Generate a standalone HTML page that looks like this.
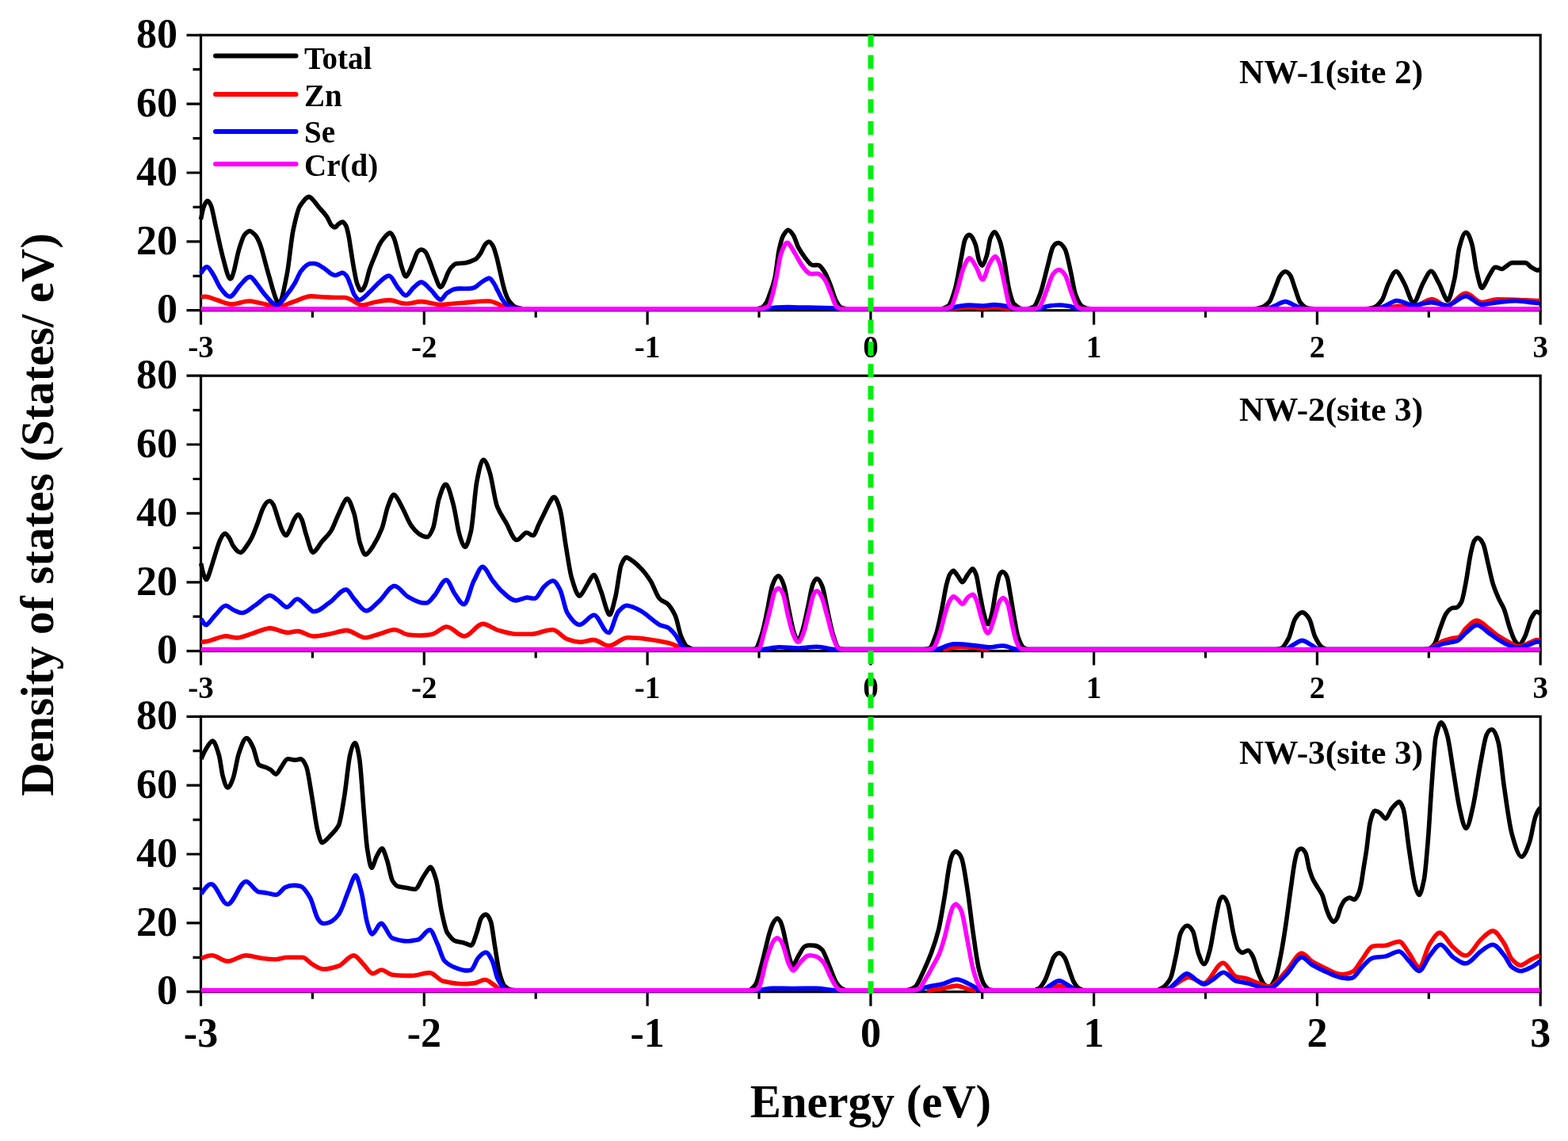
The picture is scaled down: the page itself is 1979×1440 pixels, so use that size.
<!DOCTYPE html>
<html><head><meta charset="utf-8"><title>Density of states</title>
<style>html,body{margin:0;padding:0;background:#fff;}svg{display:block;}text{font-family:"Liberation Serif","Times New Roman",serif;font-weight:bold;fill:#000;}</style></head>
<body>
<svg width="1979" height="1440" viewBox="0 0 1979 1440">
<rect width="1979" height="1440" fill="#fff"/>
<rect x="253.5" y="44.3" width="1690.7" height="347.4" fill="none" stroke="#000" stroke-width="3.2"/>
<path d="M235.5,391.7H253.5M243.5,348.3H253.5M235.5,304.9H253.5M243.5,261.4H253.5M235.5,218.0H253.5M243.5,174.6H253.5M235.5,131.1H253.5M243.5,87.7H253.5M235.5,44.3H253.5M253.5,391.7V409.7M394.4,391.7V400.7M535.3,391.7V409.7M676.2,391.7V400.7M817.1,391.7V409.7M958.0,391.7V400.7M1098.9,391.7V409.7M1239.7,391.7V400.7M1380.6,391.7V409.7M1521.5,391.7V400.7M1662.4,391.7V409.7M1803.3,391.7V400.7M1944.2,391.7V409.7" stroke="#000" stroke-width="3.2" fill="none"/>
<text x="224" y="407.4" font-size="52" text-anchor="end">0</text>
<text x="224" y="320.6" font-size="52" text-anchor="end">20</text>
<text x="224" y="233.7" font-size="52" text-anchor="end">40</text>
<text x="224" y="146.8" font-size="52" text-anchor="end">60</text>
<text x="224" y="60.0" font-size="52" text-anchor="end">80</text>
<text x="253.5" y="450.7" font-size="39" text-anchor="middle">-3</text>
<text x="535.3" y="450.7" font-size="39" text-anchor="middle">-2</text>
<text x="817.1" y="450.7" font-size="39" text-anchor="middle">-1</text>
<text x="1098.9" y="450.7" font-size="39" text-anchor="middle">0</text>
<text x="1380.6" y="450.7" font-size="39" text-anchor="middle">1</text>
<text x="1662.4" y="450.7" font-size="39" text-anchor="middle">2</text>
<text x="1944.2" y="450.7" font-size="39" text-anchor="middle">3</text>
<g fill="none" stroke-width="5.6" stroke-linejoin="round" stroke-linecap="butt">
<path stroke="#000" d="M253.5,277.0C254.8,270.1 256.2,263.0 257.5,260.0C258.9,256.8 260.3,253.7 261.7,253.5C263.3,253.3 264.9,255.9 266.5,260.0C268.4,264.9 270.3,276.7 272.2,285.0C275.2,298.0 278.1,313.0 281.1,323.9C284.6,336.9 288.2,354.6 291.7,351.5C295.2,348.4 298.7,323.2 302.2,312.8C304.3,306.6 306.4,299.0 308.5,296.5C310.9,293.7 313.2,291.3 315.6,291.7C317.7,292.1 319.9,294.3 322.0,296.5C323.9,298.5 325.9,302.4 327.8,307.2C331.5,316.4 335.2,333.9 338.9,346.1C343.0,359.5 347.0,377.9 351.1,382.5C354.8,386.7 358.5,364.2 362.2,346.1C364.8,333.4 367.4,303.0 370.0,290.6C373.0,276.4 375.9,263.2 378.9,259.4C383.3,253.7 387.8,245.8 392.2,249.4C395.9,252.4 399.6,258.1 403.3,262.5C406.4,266.1 409.4,269.0 412.5,273.3C414.4,276.0 416.4,282.1 418.3,284.2C420.0,286.0 421.6,287.5 423.3,286.7C424.7,286.0 426.1,283.6 427.5,282.5C429.2,281.2 430.8,280.3 432.5,280.0C433.9,279.8 435.3,282.6 436.7,285.0C437.8,286.9 438.9,292.1 440.0,297.5C441.1,302.9 442.2,311.5 443.3,318.3C444.4,325.4 445.6,333.1 446.7,339.2C448.1,346.6 449.4,354.8 450.8,358.3C452.5,362.6 454.1,366.6 455.8,366.5C457.5,366.4 459.1,363.8 460.8,360.0C462.8,355.5 464.7,344.9 466.7,339.2C468.9,332.8 471.1,327.9 473.3,322.5C475.3,317.7 477.2,311.9 479.2,308.3C481.1,304.8 483.1,302.2 485.0,300.0C487.2,297.5 489.5,294.7 491.7,293.9C493.5,293.3 495.2,296.5 497.0,300.0C498.7,303.4 500.5,311.9 502.2,318.3C503.8,324.2 505.4,332.0 507.0,337.0C508.7,342.4 510.5,349.0 512.2,349.0C513.8,349.0 515.4,345.3 517.0,342.0C518.7,338.4 520.5,333.6 522.2,329.4C523.8,325.6 525.4,319.9 527.0,318.0C528.7,316.0 530.5,314.9 532.2,315.0C533.8,315.1 535.4,316.3 537.0,318.0C538.7,319.9 540.5,325.1 542.2,329.4C544.5,335.0 546.7,342.5 549.0,348.0C551.4,353.8 553.7,362.1 556.1,362.5C557.7,362.8 559.4,358.3 561.0,355.0C562.5,351.9 564.1,346.8 565.6,343.9C567.1,341.1 568.5,338.4 570.0,337.0C571.9,335.2 573.7,333.2 575.6,332.8C579.7,331.9 583.7,332.5 587.8,331.7C591.9,330.9 595.9,329.3 600.0,327.2C602.2,326.1 604.5,322.7 606.7,319.4C608.5,316.8 610.2,311.3 612.0,309.0C613.7,306.7 615.5,305.1 617.2,305.0C618.8,304.9 620.4,307.5 622.0,310.0C623.6,312.5 625.1,318.3 626.7,323.9C628.0,328.4 629.2,334.5 630.5,340.0C631.8,345.6 633.1,352.0 634.4,357.2C635.6,362.0 636.8,366.7 638.0,370.0C639.4,373.8 640.8,377.7 642.2,379.4C645.2,383.1 648.1,386.9 651.1,387.8C654.1,388.7 657.0,389.8 660.0,389.8C673.3,389.8 686.7,389.7 700.0,389.7L955.0,389.7C957.0,389.7 959.0,389.1 961.0,388.5C963.0,387.9 965.1,385.0 967.1,382.0C968.7,379.6 970.4,374.3 972.0,370.0C974.0,364.8 975.9,359.5 977.9,351.2C979.7,343.6 981.5,323.2 983.3,315.1C985.1,307.0 986.9,300.0 988.7,297.1C990.7,293.9 992.6,290.1 994.6,290.3C996.9,290.5 999.1,293.4 1001.4,297.1C1003.5,300.5 1005.6,308.5 1007.7,312.4C1010.7,317.9 1013.7,322.2 1016.7,326.0C1019.1,329.0 1021.5,332.5 1023.9,334.0C1027.2,336.1 1030.6,333.3 1033.9,335.0C1036.3,336.3 1038.7,340.1 1041.1,344.0C1043.5,347.9 1045.9,354.2 1048.3,360.3C1050.4,365.6 1052.5,374.2 1054.6,378.3C1057.0,383.0 1059.4,387.6 1061.8,388.2C1064.5,388.9 1067.3,389.7 1070.0,389.7L1188.0,389.7C1190.9,389.7 1193.8,387.8 1196.7,386.1C1199.7,384.3 1202.6,374.4 1205.6,363.9C1208.2,354.8 1210.7,337.8 1213.3,325.0C1214.8,317.5 1216.3,306.4 1217.8,302.8C1220.0,297.5 1222.2,295.6 1224.4,296.7C1226.6,297.9 1228.9,302.4 1231.1,308.3C1232.6,312.3 1234.1,324.1 1235.6,328.3C1237.1,332.4 1238.5,335.6 1240.0,335.0C1241.9,334.2 1243.7,327.9 1245.6,321.7C1247.1,316.8 1248.5,304.5 1250.0,300.6C1251.9,295.7 1253.7,292.2 1255.6,292.8C1257.8,293.5 1260.0,298.9 1262.2,305.0C1264.1,310.2 1265.9,320.9 1267.8,330.6C1269.6,340.2 1271.5,356.3 1273.3,363.9C1275.5,373.2 1277.8,381.9 1280.0,383.9C1283.0,386.5 1285.9,389.2 1288.9,389.5C1291.3,389.7 1293.6,389.8 1296.0,389.7C1298.8,389.6 1301.6,388.5 1304.4,387.2C1307.4,385.9 1310.3,377.6 1313.3,369.4C1316.3,361.2 1319.2,347.1 1322.2,336.1C1324.4,327.8 1326.7,315.4 1328.9,311.7C1331.5,307.4 1334.1,306.2 1336.7,306.7C1339.3,307.2 1341.8,310.1 1344.4,315.0C1346.6,319.2 1348.9,332.1 1351.1,341.7C1353.3,351.3 1355.6,367.1 1357.8,372.8C1360.8,380.4 1363.7,386.1 1366.7,387.2C1369.3,388.2 1371.8,389.4 1374.4,389.5C1376.3,389.6 1378.1,389.7 1380.0,389.7L1583.0,389.7C1585.7,389.7 1588.4,388.9 1591.1,388.3C1594.8,387.5 1598.5,385.0 1602.2,380.6C1604.8,377.5 1607.4,368.0 1610.0,361.7C1611.9,357.2 1613.7,351.0 1615.6,348.3C1617.8,345.1 1620.0,343.0 1622.2,342.8C1624.4,342.6 1626.7,344.8 1628.9,348.3C1630.7,351.1 1632.6,358.9 1634.4,363.9C1636.6,370.0 1638.9,378.9 1641.1,381.7C1644.4,385.8 1647.8,388.6 1651.1,389.0C1653.4,389.3 1655.7,389.7 1658.0,389.7L1724.0,389.7C1727.1,389.7 1730.2,388.9 1733.3,388.3C1737.0,387.6 1740.7,383.4 1744.4,378.3C1747.0,374.7 1749.6,363.6 1752.2,358.3C1755.6,351.3 1759.1,341.7 1762.5,342.5C1765.8,343.3 1769.2,352.1 1772.5,358.0C1776.3,364.8 1780.2,381.6 1784.0,381.6C1788.2,381.6 1792.3,363.7 1796.5,356.6C1799.7,351.1 1802.9,342.4 1806.1,342.2C1809.3,342.0 1812.5,351.1 1815.7,356.6C1819.2,362.6 1822.7,375.1 1826.2,378.7C1829.4,382.0 1832.6,365.3 1835.8,351.8C1837.7,343.6 1839.7,320.8 1841.6,313.4C1844.5,302.4 1847.3,293.3 1850.2,293.2C1852.8,293.1 1855.3,299.7 1857.9,308.6C1859.8,315.3 1861.8,334.3 1863.7,342.2C1866.1,352.0 1868.5,365.2 1870.9,363.3C1873.9,360.9 1877.0,351.7 1880.0,347.0C1882.2,343.6 1884.5,338.2 1886.7,337.4C1889.9,336.2 1893.1,340.5 1896.3,339.3C1900.5,337.7 1904.6,331.6 1908.8,331.6L1925.1,331.6C1927.7,331.6 1930.2,335.8 1932.8,337.4C1935.4,339.0 1937.9,340.7 1940.5,341.2C1941.7,341.4 1942.8,340.4 1944.0,339.5"/>
<path stroke="#ff0000" d="M253.5,375.0C256.0,374.5 258.6,373.9 261.1,374.4C265.7,375.3 270.4,377.5 275.0,379.0C280.4,380.7 285.7,383.4 291.1,383.9C299.3,384.6 307.4,379.2 315.6,380.0C322.1,380.7 328.5,382.6 335.0,384.0C340.0,385.0 345.0,387.2 350.0,387.2C356.7,387.2 363.3,383.1 370.0,381.0C377.4,378.7 384.8,374.0 392.2,373.9C398.1,373.8 404.1,374.8 410.0,375.0C415.0,375.2 420.0,375.5 425.0,375.5L435.0,375.5C437.8,375.5 440.5,377.2 443.3,378.3C447.8,380.1 452.2,385.0 456.7,385.0C462.8,385.0 468.9,381.9 475.0,381.0C480.6,380.1 486.1,378.8 491.7,378.9C498.5,379.0 505.4,383.2 512.2,383.3C518.9,383.4 525.5,380.4 532.2,380.6C540.2,380.9 548.1,384.6 556.1,384.4C565.5,384.1 575.0,382.9 584.4,382.2C595.3,381.4 606.3,379.9 617.2,380.0C622.9,380.0 628.7,384.4 634.4,386.1C638.1,387.2 641.9,388.7 645.6,389.0C650.4,389.4 655.2,389.7 660.0,389.7M1195.0,389.7C1204.7,389.7 1214.3,388.1 1224.0,388.0C1229.3,387.9 1234.7,389.0 1240.0,389.0C1245.0,389.0 1250.0,387.9 1255.0,388.0C1261.7,388.1 1268.3,389.7 1275.0,389.7M1745.0,389.7C1750.7,389.7 1756.3,387.2 1762.0,386.5C1769.3,385.6 1776.7,387.7 1784.0,387.0C1791.4,386.3 1798.7,378.6 1806.1,377.7C1812.7,376.8 1819.4,386.1 1826.0,386.0C1834.1,385.9 1842.1,369.8 1850.2,370.0C1856.9,370.2 1863.7,381.9 1870.4,381.6C1876.8,381.3 1883.2,377.7 1889.6,377.7C1897.6,377.8 1905.6,377.9 1913.6,378.2C1923.2,378.6 1932.8,379.6 1942.4,379.6L1944.0,379.6"/>
<path stroke="#0000ff" d="M253.5,345.0C256.4,340.6 259.3,335.4 262.2,337.2C264.8,338.8 267.4,343.7 270.0,348.0C272.6,352.3 275.2,359.3 277.8,362.8C282.4,369.1 287.1,376.1 291.7,373.9C295.5,372.1 299.2,363.9 303.0,360.0C307.2,355.7 311.4,349.1 315.6,349.4C318.4,349.6 321.2,354.6 324.0,358.0C327.1,361.7 330.2,367.0 333.3,370.6C338.9,377.0 344.4,385.6 350.0,385.0C354.0,384.6 358.0,377.0 362.0,372.0C365.4,367.7 368.8,362.8 372.2,357.2C374.8,352.9 377.4,345.2 380.0,342.0C383.7,337.4 387.4,333.4 391.1,332.8C394.1,332.3 397.0,332.2 400.0,333.3C403.3,334.5 406.7,336.9 410.0,339.2C412.8,341.1 415.5,344.3 418.3,345.8C420.0,346.7 421.6,347.5 423.3,347.5C426.1,347.5 428.9,344.7 431.7,344.2C433.6,343.9 435.6,345.9 437.5,348.3C439.2,350.4 440.8,356.0 442.5,360.0C444.2,364.0 445.8,370.1 447.5,372.5C450.0,376.1 452.5,379.5 455.0,378.3C458.9,376.5 462.8,372.0 466.7,368.3C470.9,364.4 475.0,359.4 479.2,355.8C483.4,352.2 487.5,347.3 491.7,348.3C495.2,349.2 498.7,358.8 502.2,362.8C505.7,366.9 509.3,373.4 512.8,372.8C515.9,372.2 518.9,365.6 522.0,363.0C525.4,360.1 528.8,355.7 532.2,356.1C536.1,356.6 540.1,362.4 544.0,366.0C548.0,369.7 552.1,378.0 556.1,378.3C558.7,378.5 561.4,371.8 564.0,370.0C567.1,367.9 570.2,365.9 573.3,365.0C581.8,362.5 590.4,366.2 598.9,362.8C601.9,361.6 605.0,358.0 608.0,356.0C611.1,354.0 614.1,351.5 617.2,351.1C619.1,350.9 621.1,354.2 623.0,357.0C625.0,359.9 626.9,364.5 628.9,368.3C630.6,371.5 632.3,375.5 634.0,378.0C636.0,381.0 638.0,384.0 640.0,385.0C643.7,386.9 647.4,388.6 651.1,389.0C654.1,389.3 657.0,389.7 660.0,389.7L965.0,389.7C970.0,389.7 975.0,388.3 980.0,388.0C985.0,387.7 990.0,387.4 995.0,387.5C1000.0,387.6 1005.0,387.9 1010.0,388.0C1016.7,388.1 1023.3,388.1 1030.0,388.2C1036.7,388.3 1043.3,388.5 1050.0,388.8C1054.0,389.0 1058.0,389.7 1062.0,389.7L1195.0,389.7C1200.0,389.7 1205.0,387.2 1210.0,386.5C1214.7,385.8 1219.3,385.0 1224.0,385.0C1229.3,385.0 1234.7,386.0 1240.0,386.0C1245.0,386.0 1250.0,384.6 1255.0,384.5C1260.0,384.4 1265.0,385.6 1270.0,386.5C1274.0,387.2 1278.0,389.7 1282.0,389.7L1310.0,389.7C1314.0,389.7 1318.0,387.1 1322.0,386.5C1326.9,385.7 1331.8,385.0 1336.7,385.0C1341.1,385.0 1345.6,385.8 1350.0,386.5C1354.0,387.2 1358.0,389.7 1362.0,389.7L1598.0,389.7C1601.3,389.7 1604.7,387.7 1608.0,386.5C1612.7,384.8 1617.5,380.6 1622.2,380.6C1626.8,380.6 1631.4,384.8 1636.0,386.5C1639.3,387.7 1642.7,389.7 1646.0,389.7L1738.0,389.7C1741.3,389.7 1744.7,387.3 1748.0,386.0C1752.8,384.1 1757.7,379.9 1762.5,379.5C1769.7,378.9 1776.8,385.6 1784.0,385.4C1791.4,385.2 1798.7,381.9 1806.1,381.6C1812.8,381.4 1819.5,385.3 1826.2,385.4C1834.2,385.5 1842.2,373.8 1850.2,373.9C1856.9,374.0 1863.7,384.7 1870.4,384.4C1876.8,384.1 1883.2,382.2 1889.6,381.6C1897.6,380.8 1905.6,379.5 1913.6,379.6C1923.2,379.8 1932.8,382.5 1942.4,382.5L1944.0,382.5"/>
<path stroke="#ff00ff" d="M253.5,389.7L955.0,389.7C957.3,389.7 959.7,389.6 962.0,389.5C964.6,389.4 967.2,388.0 969.8,386.4C971.5,385.3 973.3,378.0 975.0,372.0C976.6,366.6 978.1,358.5 979.7,351.2C981.8,341.4 983.9,325.3 986.0,319.6C989.0,311.4 992.1,304.1 995.1,307.0C997.8,309.6 1000.5,315.1 1003.2,319.6C1006.2,324.5 1009.2,330.8 1012.2,335.0C1015.2,339.2 1018.2,343.4 1021.2,344.9C1025.4,347.0 1029.7,344.1 1033.9,345.8C1036.3,346.8 1038.7,349.5 1041.1,353.0C1043.5,356.5 1045.9,363.7 1048.3,369.3C1050.7,374.9 1053.1,384.1 1055.5,386.4C1057.7,388.5 1059.8,389.7 1062.0,389.7L1192.0,389.7C1194.7,389.7 1197.3,388.7 1200.0,387.2C1203.0,385.6 1205.9,373.0 1208.9,363.9C1211.1,357.0 1213.4,344.8 1215.6,339.4C1218.5,332.3 1221.5,324.7 1224.4,326.1C1227.0,327.3 1229.6,332.9 1232.2,337.2C1234.8,341.5 1237.4,352.7 1240.0,352.8C1243.0,353.0 1245.9,337.8 1248.9,332.8C1251.1,329.0 1253.4,324.8 1255.6,323.9C1257.8,323.0 1260.0,328.1 1262.2,333.9C1264.1,338.8 1265.9,350.3 1267.8,358.3C1270.0,367.7 1272.2,384.0 1274.4,386.1C1277.0,388.6 1279.6,389.7 1282.2,389.7L1305.0,389.7C1307.0,389.7 1309.1,389.2 1311.1,388.3C1314.4,386.8 1317.8,374.0 1321.1,366.1C1323.7,359.9 1326.3,349.7 1328.9,346.1C1331.5,342.5 1334.1,340.5 1336.7,340.6C1339.3,340.7 1341.8,343.2 1344.4,347.2C1347.0,351.2 1349.6,362.8 1352.2,369.4C1354.8,376.0 1357.4,385.3 1360.0,387.2C1362.0,388.7 1364.0,389.7 1366.0,389.7L1944.0,389.7"/>
</g>
<rect x="253.5" y="474.2" width="1690.7" height="347.4" fill="none" stroke="#000" stroke-width="3.2"/>
<path d="M235.5,821.6H253.5M243.5,778.2H253.5M235.5,734.8H253.5M243.5,691.3H253.5M235.5,647.9H253.5M243.5,604.5H253.5M235.5,561.0H253.5M243.5,517.6H253.5M235.5,474.2H253.5M253.5,821.6V839.6M394.4,821.6V830.6M535.3,821.6V839.6M676.2,821.6V830.6M817.1,821.6V839.6M958.0,821.6V830.6M1098.9,821.6V839.6M1239.7,821.6V830.6M1380.6,821.6V839.6M1521.5,821.6V830.6M1662.4,821.6V839.6M1803.3,821.6V830.6M1944.2,821.6V839.6" stroke="#000" stroke-width="3.2" fill="none"/>
<text x="224" y="837.3" font-size="52" text-anchor="end">0</text>
<text x="224" y="750.5" font-size="52" text-anchor="end">20</text>
<text x="224" y="663.6" font-size="52" text-anchor="end">40</text>
<text x="224" y="576.8" font-size="52" text-anchor="end">60</text>
<text x="224" y="489.9" font-size="52" text-anchor="end">80</text>
<text x="253.5" y="880.6" font-size="39" text-anchor="middle">-3</text>
<text x="535.3" y="880.6" font-size="39" text-anchor="middle">-2</text>
<text x="817.1" y="880.6" font-size="39" text-anchor="middle">-1</text>
<text x="1098.9" y="880.6" font-size="39" text-anchor="middle">0</text>
<text x="1380.6" y="880.6" font-size="39" text-anchor="middle">1</text>
<text x="1662.4" y="880.6" font-size="39" text-anchor="middle">2</text>
<text x="1944.2" y="880.6" font-size="39" text-anchor="middle">3</text>
<g fill="none" stroke-width="5.6" stroke-linejoin="round" stroke-linecap="butt">
<path stroke="#000" d="M253.7,711.0C254.8,716.7 255.9,722.2 257.0,725.0C258.3,728.4 259.7,732.5 261.0,731.2C262.7,729.5 264.3,723.0 266.0,718.0C268.0,711.9 270.1,704.4 272.1,698.1C274.1,692.0 276.0,684.9 278.0,681.0C280.0,677.0 282.1,672.9 284.1,673.2C286.1,673.5 288.0,676.8 290.0,680.0C291.4,682.3 292.8,686.9 294.2,688.9C297.6,693.6 300.9,698.3 304.3,697.1C306.9,696.2 309.4,691.6 312.0,688.0C314.0,685.2 316.0,682.0 318.0,678.0C320.5,673.0 323.1,665.7 325.6,659.0C327.4,654.1 329.3,647.3 331.1,643.3C333.0,639.3 334.8,635.7 336.7,634.0C337.9,632.9 339.2,632.1 340.4,632.2C341.9,632.3 343.5,634.3 345.0,637.0C347.1,640.7 349.2,649.6 351.3,655.7C352.9,660.2 354.4,665.8 356.0,669.0C357.8,672.7 359.6,676.3 361.4,675.6C362.9,675.0 364.5,671.1 366.0,668.0C367.7,664.6 369.3,659.1 371.0,656.0C372.7,652.9 374.4,649.8 376.1,649.4C377.7,649.0 379.4,652.4 381.0,656.0C382.7,659.8 384.5,668.9 386.2,674.1C389.3,683.2 392.3,698.1 395.4,697.1C399.1,695.9 402.8,687.7 406.5,683.3C410.2,678.9 413.8,676.1 417.5,670.5C420.6,665.8 423.6,656.7 426.7,650.2C430.1,643.0 433.5,633.4 436.9,630.0C440.3,626.6 443.6,638.2 447.0,648.4C449.4,655.7 451.9,677.8 454.3,685.2C456.8,692.7 459.2,700.7 461.7,699.9C464.8,698.9 467.9,693.7 471.0,688.9C474.7,683.2 478.4,676.3 482.1,666.8C484.6,660.4 487.0,645.7 489.5,639.2C492.2,632.0 495.0,622.9 497.7,624.4C501.1,626.2 504.5,634.7 507.9,641.0C511.6,647.8 515.2,657.8 518.9,663.1C522.0,667.6 525.0,670.9 528.1,673.2C531.8,676.0 535.5,677.5 539.2,677.8C541.6,678.0 544.1,672.8 546.5,666.8C549.0,660.7 551.4,638.2 553.9,630.0C557.0,619.9 560.0,610.0 563.1,611.5C566.2,613.0 569.2,625.7 572.3,637.3C574.8,646.7 577.2,665.3 579.7,674.1C581.8,681.7 584.0,688.1 586.1,689.8C588.9,691.9 591.6,682.1 594.4,670.5C596.9,660.1 599.3,620.6 601.8,607.9C604.5,593.9 607.3,579.9 610.0,580.2C612.8,580.5 615.5,587.6 618.3,596.8C621.4,607.0 624.4,631.6 627.5,639.2C631.2,648.4 634.9,652.9 638.6,659.4C642.9,666.9 647.2,680.4 651.5,681.5C655.8,682.6 660.0,673.2 664.3,672.3C667.4,671.6 670.4,677.2 673.5,675.5C675.7,674.3 677.8,666.5 680.0,662.0C682.2,657.5 684.4,652.8 686.6,648.4C690.3,641.1 693.9,632.3 697.6,628.1C700.7,624.6 703.7,632.9 706.8,642.8C709.3,650.8 711.7,674.4 714.2,688.9C716.6,703.2 719.1,721.4 721.5,729.4C725.2,741.6 728.9,755.0 732.6,751.5C735.7,748.6 738.7,741.5 741.8,736.7C744.3,732.9 746.7,726.3 749.2,725.7C752.3,724.9 755.3,738.2 758.4,745.9C761.8,754.3 765.1,771.6 768.5,775.4C771.3,778.5 774.0,764.1 776.8,753.3C779.2,743.8 781.7,718.4 784.1,712.8C786.6,707.1 789.0,702.5 791.5,703.6C797.6,706.4 803.8,711.8 809.9,718.3C813.6,722.2 817.3,727.2 821.0,733.0C824.7,738.8 828.3,750.4 832.0,755.1C835.7,759.8 839.3,758.8 843.0,762.5C846.1,765.6 849.2,770.4 852.3,777.2C854.7,782.5 857.2,797.2 859.6,803.0C862.1,808.8 864.5,814.5 867.0,815.9C870.1,817.6 873.1,819.6 876.2,819.6L946.0,819.6C948.3,819.6 950.7,819.3 953.0,818.9C955.9,818.4 958.8,808.6 961.7,799.8C964.0,792.8 966.3,780.1 968.6,769.4C970.6,759.9 972.7,745.0 974.7,739.1C977.3,731.6 979.9,726.6 982.5,726.9C984.8,727.1 987.2,732.1 989.5,739.1C991.5,745.2 993.6,759.9 995.6,769.4C997.9,780.1 1000.2,793.3 1002.5,799.8C1004.1,804.3 1005.7,808.1 1007.3,807.6C1009.2,807.0 1011.0,801.4 1012.9,795.5C1015.2,788.1 1017.6,775.5 1019.9,765.1C1021.9,756.1 1023.9,742.4 1025.9,737.3C1027.8,732.5 1029.7,730.0 1031.6,730.4C1033.8,730.8 1035.9,734.8 1038.1,740.8C1040.1,746.5 1042.2,760.2 1044.2,769.4C1046.5,779.8 1048.8,792.4 1051.1,799.8C1053.7,808.1 1056.3,817.2 1058.9,818.1C1061.3,818.9 1063.6,819.6 1066.0,819.6L1165.0,819.6C1167.7,819.6 1170.3,818.8 1173.0,818.1C1175.9,817.3 1178.8,808.2 1181.7,799.8C1184.0,793.1 1186.3,780.4 1188.6,769.4C1190.6,759.6 1192.7,745.3 1194.7,737.3C1196.2,731.6 1197.6,726.2 1199.1,724.3C1200.8,722.1 1202.6,719.3 1204.3,720.8C1206.0,722.3 1207.8,725.5 1209.5,727.8C1211.2,730.1 1213.0,734.7 1214.7,734.7C1216.7,734.7 1218.8,728.8 1220.8,726.0C1222.8,723.3 1224.8,719.9 1226.8,718.2C1228.5,716.8 1230.3,720.6 1232.0,725.2C1233.5,729.1 1234.9,740.3 1236.4,747.7C1238.1,756.5 1239.9,767.1 1241.6,773.8C1243.3,780.5 1245.1,787.3 1246.8,787.7C1248.5,788.1 1250.3,780.9 1252.0,773.8C1253.7,766.7 1255.5,751.9 1257.2,743.4C1258.7,736.2 1260.1,727.7 1261.6,725.2C1263.0,722.8 1264.5,721.5 1265.9,721.7C1267.6,721.9 1269.4,724.4 1271.1,728.6C1272.6,732.2 1274.0,743.7 1275.5,752.1C1276.9,760.3 1278.4,770.2 1279.8,778.1C1281.5,787.7 1283.3,799.4 1285.0,804.2C1287.3,810.6 1289.6,816.0 1291.9,817.2C1293.9,818.2 1296.0,819.6 1298.0,819.6L1610.0,819.6C1612.4,819.6 1614.8,818.8 1617.2,818.1C1620.3,817.2 1623.3,811.3 1626.4,805.5C1629.1,800.4 1631.7,785.7 1634.4,781.4C1637.4,776.5 1640.5,773.0 1643.5,772.9C1646.6,772.8 1649.6,776.4 1652.7,781.4C1655.0,785.2 1657.3,798.5 1659.6,803.2C1662.6,809.4 1665.7,815.3 1668.7,817.0C1670.8,818.2 1672.9,819.6 1675.0,819.6L1795.0,819.6C1797.4,819.6 1799.7,819.2 1802.1,819.0C1804.8,818.7 1807.4,816.7 1810.1,813.5C1812.8,810.3 1815.4,798.7 1818.1,791.8C1820.4,785.8 1822.7,778.0 1825.0,774.6C1827.3,771.2 1829.6,768.7 1831.9,767.7C1834.2,766.7 1836.4,767.4 1838.7,766.6C1840.6,765.9 1842.6,763.2 1844.5,759.7C1846.4,756.2 1848.3,744.3 1850.2,734.5C1852.1,724.7 1854.0,709.1 1855.9,700.1C1857.4,692.9 1859.0,685.2 1860.5,682.9C1862.0,680.6 1863.6,678.8 1865.1,678.9C1867.4,679.1 1869.7,681.7 1872.0,686.4C1873.9,690.3 1875.8,701.5 1877.7,709.3C1880.0,718.7 1882.3,730.6 1884.6,737.9C1886.9,745.1 1889.1,750.0 1891.4,755.1C1893.7,760.2 1896.0,762.9 1898.3,768.8C1900.6,774.7 1902.9,785.2 1905.2,791.8C1907.5,798.4 1909.8,805.5 1912.1,808.9C1914.0,811.7 1915.9,814.1 1917.8,813.5C1920.1,812.8 1922.4,808.0 1924.7,803.2C1927.4,797.7 1930.0,785.6 1932.7,780.3C1934.6,776.5 1936.5,773.1 1938.4,772.3C1940.3,771.5 1942.1,772.8 1944.0,774.6"/>
<path stroke="#ff0000" d="M253.7,810.4C256.1,810.3 258.6,809.8 261.0,809.4C268.4,808.0 275.7,804.0 283.1,803.0C289.2,802.2 295.4,805.7 301.5,804.8C307.7,803.9 313.8,800.9 320.0,799.0C326.7,796.9 333.5,793.4 340.2,792.9C347.6,792.4 354.9,798.0 362.3,798.4C366.9,798.7 371.5,796.3 376.1,796.6C382.5,797.1 389.0,802.9 395.4,803.0C402.2,803.1 408.9,801.4 415.7,800.2C422.8,799.0 429.8,796.0 436.9,795.6C445.2,795.1 453.4,805.5 461.7,804.8C467.3,804.4 472.8,801.8 478.4,800.2C484.8,798.4 491.3,795.0 497.7,794.7C503.5,794.4 509.2,800.3 515.0,801.0C520.0,801.6 525.0,802.0 530.0,802.0C535.0,802.0 540.0,801.3 545.0,800.5C551.0,799.5 557.1,791.8 563.1,791.0C570.8,790.0 578.4,803.2 586.1,803.0C594.1,802.8 602.0,786.6 610.0,787.4C616.5,788.1 622.9,794.0 629.4,795.6C636.8,797.5 644.1,800.2 651.5,800.2L670.0,800.2C679.2,800.2 688.4,794.5 697.6,794.7C703.7,794.8 709.9,804.6 716.0,806.7C721.5,808.6 727.1,810.4 732.6,810.4C738.1,810.4 743.7,807.5 749.2,807.6C755.6,807.7 762.1,815.1 768.5,815.0C776.2,814.9 783.8,805.1 791.5,804.8C800.1,804.5 808.7,805.5 817.3,806.7C825.9,807.9 834.4,809.2 843.0,811.3C847.9,812.5 852.9,814.9 857.8,816.8C860.2,817.7 862.7,819.6 865.1,819.6M1190.0,819.6C1195.0,819.6 1200.0,817.3 1205.0,817.0C1213.3,816.5 1221.7,816.8 1230.0,817.5C1236.0,818.0 1242.0,819.6 1248.0,819.6M1800.0,819.6C1807.2,819.6 1814.4,811.5 1821.6,808.9C1825.4,807.5 1829.2,806.5 1833.0,805.5C1835.7,804.8 1838.3,805.3 1841.0,804.4C1844.1,803.3 1847.1,795.7 1850.2,792.9C1855.2,788.4 1860.1,782.1 1865.1,783.2C1869.7,784.2 1874.2,789.4 1878.8,792.9C1882.6,795.8 1886.5,799.5 1890.3,802.1C1894.1,804.7 1898.0,806.9 1901.8,808.9C1906.8,811.5 1911.7,815.8 1916.7,815.8C1921.3,815.8 1925.8,813.0 1930.4,811.2C1933.1,810.2 1935.7,808.4 1938.4,807.8C1940.3,807.3 1942.1,807.9 1944.0,808.4"/>
<path stroke="#0000ff" d="M253.7,780.9C256.1,784.7 258.6,789.9 261.0,788.3C264.7,786.0 268.3,779.6 272.0,776.0C276.3,771.7 280.7,764.1 285.0,764.3C288.3,764.4 291.7,768.6 295.0,770.0C298.7,771.5 302.4,774.0 306.1,773.5C311.4,772.8 316.7,767.4 322.0,764.0C328.1,760.1 334.1,752.3 340.2,751.5C343.5,751.1 346.7,754.8 350.0,757.0C353.8,759.6 357.6,765.3 361.4,766.2C366.3,767.4 371.2,754.7 376.1,756.1C379.4,757.0 382.7,761.3 386.0,764.0C389.1,766.5 392.3,771.2 395.4,771.7C402.2,772.8 408.9,765.0 415.7,760.7C422.8,756.2 429.8,743.9 436.9,744.1C440.3,744.2 443.6,752.3 447.0,756.0C451.9,761.3 456.8,770.3 461.7,770.8C467.3,771.4 472.8,763.6 478.4,758.8C484.8,753.3 491.3,739.9 497.7,739.5C503.5,739.2 509.4,750.2 515.2,753.3C523.2,757.6 531.2,762.5 539.2,760.7C542.3,760.0 545.3,754.9 548.4,751.5C553.3,746.0 558.2,732.2 563.1,732.1C566.8,732.0 570.4,744.6 574.1,749.6C578.1,755.1 582.1,763.6 586.1,762.5C590.1,761.4 594.1,740.5 598.1,733.0C602.1,725.6 606.0,713.9 610.0,715.6C614.0,717.3 618.0,727.9 622.0,733.0C625.7,737.6 629.3,742.7 633.0,745.9C639.2,751.2 645.3,758.2 651.5,757.9C655.8,757.7 660.0,754.9 664.3,754.2C668.0,753.6 671.8,756.0 675.5,755.1C679.2,754.2 682.9,744.1 686.6,740.4C690.3,736.7 693.9,733.5 697.6,733.0C700.7,732.6 703.7,738.4 706.8,744.1C709.9,749.8 712.9,768.7 716.0,773.5C721.5,782.1 727.1,789.4 732.6,788.3C738.1,787.2 743.7,777.2 749.2,776.3C755.6,775.3 762.1,799.9 768.5,798.4C772.5,797.5 776.5,775.9 780.5,771.7C784.2,767.9 787.8,763.8 791.5,764.3C797.6,765.2 803.8,768.0 809.9,771.7C817.3,776.1 824.6,784.0 832.0,788.3C835.7,790.4 839.3,790.0 843.0,792.0C846.1,793.7 849.2,797.4 852.3,801.2C855.4,804.9 858.4,813.4 861.5,815.9C863.9,817.9 866.4,819.6 868.8,819.6L960.0,819.6C967.5,819.6 975.0,817.0 982.5,816.8C990.7,816.6 998.8,818.0 1007.0,818.0C1015.2,818.0 1023.4,816.2 1031.6,816.3C1039.4,816.4 1047.2,819.6 1055.0,819.6L1180.0,819.6C1188.0,819.6 1196.0,813.0 1204.0,812.8C1212.7,812.6 1221.3,813.7 1230.0,814.6C1235.7,815.2 1241.3,816.4 1247.0,816.8C1253.3,817.2 1259.7,814.7 1266.0,815.0C1272.3,815.3 1278.7,819.6 1285.0,819.6L1622.0,819.6C1625.3,819.6 1628.7,815.8 1632.0,814.0C1635.8,812.0 1639.7,808.4 1643.5,808.4C1647.3,808.4 1651.2,812.0 1655.0,814.0C1658.3,815.8 1661.7,819.6 1665.0,819.6L1800.0,819.6C1807.2,819.6 1814.4,814.5 1821.6,812.4C1827.3,810.7 1833.0,811.2 1838.7,808.9C1842.5,807.4 1846.4,801.6 1850.2,798.6C1855.2,794.7 1860.1,788.2 1865.1,788.9C1869.7,789.6 1874.2,795.4 1878.8,798.6C1882.6,801.3 1886.5,804.3 1890.3,806.7C1895.3,809.8 1900.2,813.1 1905.2,814.7C1909.4,816.0 1913.6,817.5 1917.8,817.0C1922.0,816.5 1926.2,814.9 1930.4,813.5C1933.5,812.5 1936.5,810.7 1939.6,810.1C1941.1,809.8 1942.5,809.8 1944.0,810.0"/>
<path stroke="#ff00ff" d="M253.7,819.6L950.0,819.6C952.5,819.6 954.9,819.4 957.4,818.9C960.0,818.4 962.6,804.5 965.2,795.5C967.8,786.5 970.4,775.4 973.0,765.1C974.4,759.4 975.9,750.7 977.3,747.7C979.0,744.0 980.8,742.4 982.5,742.5C984.5,742.7 986.6,745.5 988.6,750.3C990.3,754.4 992.1,766.8 993.8,773.8C996.1,783.3 998.5,794.1 1000.8,799.8C1003.0,805.1 1005.1,810.2 1007.3,810.2C1009.5,810.2 1011.6,805.4 1013.8,799.8C1016.1,793.9 1018.4,782.6 1020.7,773.8C1022.7,766.1 1024.8,754.5 1026.8,750.3C1028.4,747.0 1030.0,745.4 1031.6,746.0C1033.5,746.6 1035.3,749.6 1037.2,753.8C1039.5,759.1 1041.9,769.9 1044.2,778.1C1046.8,787.2 1049.4,798.9 1052.0,805.9C1054.0,811.4 1056.1,817.3 1058.1,818.1C1060.1,818.9 1062.0,819.6 1064.0,819.6L1170.0,819.6C1172.5,819.6 1174.9,818.9 1177.4,818.1C1180.3,817.2 1183.1,807.8 1186.0,799.8C1188.3,793.3 1190.7,781.4 1193.0,773.8C1194.7,768.2 1196.5,761.7 1198.2,759.0C1200.2,755.8 1202.3,752.1 1204.3,753.0C1206.0,753.7 1207.8,755.7 1209.5,757.3C1211.2,758.9 1213.0,762.4 1214.7,762.5C1216.7,762.7 1218.8,756.7 1220.8,754.7C1223.1,752.4 1225.4,750.4 1227.7,750.3C1229.4,750.2 1231.2,754.7 1232.9,759.0C1234.6,763.3 1236.4,772.8 1238.1,778.1C1241.0,786.9 1243.9,799.4 1246.8,799.0C1249.7,798.6 1252.6,786.5 1255.5,778.1C1257.2,773.1 1259.0,764.3 1260.7,760.8C1262.4,757.3 1264.2,755.0 1265.9,754.7C1267.9,754.4 1270.0,757.6 1272.0,762.5C1273.7,766.7 1275.5,779.2 1277.2,786.8C1278.9,794.4 1280.7,804.1 1282.4,808.5C1284.4,813.7 1286.5,818.6 1288.5,818.9C1290.7,819.2 1292.8,819.6 1295.0,819.6L1944.0,819.6"/>
</g>
<rect x="253.5" y="904.3" width="1690.7" height="347.4" fill="none" stroke="#000" stroke-width="3.2"/>
<path d="M235.5,1251.7H253.5M243.5,1208.3H253.5M235.5,1164.8H253.5M243.5,1121.4H253.5M235.5,1078.0H253.5M243.5,1034.6H253.5M235.5,991.1H253.5M243.5,947.7H253.5M235.5,904.3H253.5M253.5,1251.7V1269.7M394.4,1251.7V1260.7M535.3,1251.7V1269.7M676.2,1251.7V1260.7M817.1,1251.7V1269.7M958.0,1251.7V1260.7M1098.9,1251.7V1269.7M1239.7,1251.7V1260.7M1380.6,1251.7V1269.7M1521.5,1251.7V1260.7M1662.4,1251.7V1269.7M1803.3,1251.7V1260.7M1944.2,1251.7V1269.7" stroke="#000" stroke-width="3.2" fill="none"/>
<text x="224" y="1267.4" font-size="52" text-anchor="end">0</text>
<text x="224" y="1180.5" font-size="52" text-anchor="end">20</text>
<text x="224" y="1093.7" font-size="52" text-anchor="end">40</text>
<text x="224" y="1006.9" font-size="52" text-anchor="end">60</text>
<text x="224" y="920.0" font-size="52" text-anchor="end">80</text>
<text x="253.5" y="1321.0" font-size="52" text-anchor="middle">-3</text>
<text x="535.3" y="1321.0" font-size="52" text-anchor="middle">-2</text>
<text x="817.1" y="1321.0" font-size="52" text-anchor="middle">-1</text>
<text x="1098.9" y="1321.0" font-size="52" text-anchor="middle">0</text>
<text x="1380.6" y="1321.0" font-size="52" text-anchor="middle">1</text>
<text x="1662.4" y="1321.0" font-size="52" text-anchor="middle">2</text>
<text x="1944.2" y="1321.0" font-size="52" text-anchor="middle">3</text>
<g fill="none" stroke-width="5.6" stroke-linejoin="round" stroke-linecap="butt">
<path stroke="#000" d="M254.0,957.9C255.9,953.3 257.7,949.1 259.6,945.9C262.4,941.1 265.2,936.2 268.0,935.2C270.8,934.2 273.6,943.8 276.4,953.1C278.0,958.4 279.6,973.7 281.2,979.5C283.2,986.6 285.1,993.6 287.1,993.9C289.5,994.3 291.9,988.8 294.3,981.9C296.7,975.0 299.1,957.7 301.5,950.7C304.7,941.4 307.9,931.5 311.1,931.6C313.9,931.7 316.7,937.5 319.5,943.5C321.9,948.7 324.3,963.4 326.7,965.1C329.9,967.4 333.1,967.2 336.3,968.7C337.9,969.5 339.5,970.2 341.1,971.1C343.5,972.4 345.9,977.3 348.3,977.1C350.7,976.9 353.0,970.7 355.4,967.5C357.8,964.3 360.2,958.3 362.6,957.9C365.8,957.4 369.0,959.2 372.2,959.1C374.6,959.1 377.0,958.2 379.4,957.9C381.8,957.6 384.2,961.9 386.6,967.5C389.0,973.1 391.4,992.3 393.8,1005.9C396.2,1019.5 398.6,1039.9 401.0,1049.0C403.0,1056.6 405.0,1064.2 407.0,1063.4C410.6,1062.0 414.1,1057.5 417.7,1053.8C420.9,1050.5 424.1,1047.5 427.3,1041.8C429.7,1037.5 432.1,1020.2 434.5,1005.9C436.9,991.6 439.3,964.2 441.7,953.1C443.7,943.9 445.7,938.3 447.7,937.6C449.7,936.9 451.7,945.3 453.7,957.9C455.7,970.5 457.7,1007.1 459.7,1029.8C461.0,1044.2 462.2,1062.9 463.5,1070.9C465.6,1084.0 467.6,1097.6 469.7,1094.8C471.8,1092.0 473.8,1083.4 475.9,1079.7C478.0,1076.0 480.0,1070.8 482.1,1070.9C484.2,1071.0 486.2,1078.9 488.3,1085.0C490.7,1091.9 493.0,1107.7 495.4,1111.6C497.8,1115.5 500.1,1118.2 502.5,1118.7C506.0,1119.4 509.6,1119.9 513.1,1120.5C516.7,1121.1 520.2,1122.2 523.8,1122.2C527.3,1122.2 530.9,1111.5 534.4,1106.3C537.1,1102.4 539.7,1097.2 542.4,1094.8C545.0,1092.5 547.7,1101.3 550.3,1109.8C552.7,1117.4 555.0,1139.9 557.4,1150.6C559.8,1161.3 562.1,1173.6 564.5,1177.1C568.0,1182.3 571.6,1186.9 575.1,1187.8C578.1,1188.5 581.0,1188.8 584.0,1189.5C587.5,1190.3 591.1,1192.8 594.6,1193.1C597.0,1193.3 599.3,1183.6 601.7,1177.1C603.5,1172.3 605.2,1162.7 607.0,1159.4C609.1,1155.6 611.1,1154.2 613.2,1154.1C615.3,1154.0 617.3,1157.2 619.4,1163.0C621.2,1167.9 622.9,1184.4 624.7,1194.9C626.5,1205.6 628.3,1219.9 630.1,1226.7C632.4,1235.5 634.8,1242.5 637.1,1244.5C639.5,1246.5 641.8,1248.8 644.2,1249.0C647.8,1249.3 651.4,1249.7 655.0,1249.7L945.0,1249.7C947.9,1249.7 950.7,1246.4 953.6,1242.5C955.7,1239.6 957.9,1229.7 960.0,1222.0C962.1,1214.3 964.3,1204.9 966.4,1196.4C967.9,1190.3 969.5,1183.1 971.0,1178.0C972.5,1173.0 974.0,1168.1 975.5,1165.5C977.3,1162.4 979.1,1159.4 980.9,1159.1C982.3,1158.8 983.6,1160.8 985.0,1163.0C986.1,1164.7 987.1,1168.9 988.2,1172.8C990.6,1181.7 993.1,1197.4 995.5,1205.5C997.3,1211.5 999.1,1219.6 1000.9,1218.3C1003.3,1216.6 1005.8,1209.3 1008.2,1205.5C1010.6,1201.7 1013.1,1195.9 1015.5,1194.6C1017.3,1193.6 1019.2,1193.1 1021.0,1193.0C1023.4,1192.9 1025.8,1193.1 1028.2,1193.4C1031.2,1193.8 1034.3,1195.5 1037.3,1198.3C1040.3,1201.1 1043.4,1211.3 1046.4,1218.3C1049.4,1225.3 1052.5,1235.4 1055.5,1240.1C1057.9,1243.8 1060.4,1246.7 1062.8,1247.8C1064.5,1248.6 1066.3,1249.7 1068.0,1249.7L1143.0,1249.7C1145.3,1249.7 1147.7,1248.9 1150.0,1248.3C1151.9,1247.8 1153.7,1246.6 1155.6,1245.0C1157.2,1243.6 1158.9,1239.6 1160.5,1236.5C1162.5,1232.7 1164.5,1228.2 1166.5,1223.7C1169.5,1216.9 1172.6,1209.8 1175.6,1201.9C1178.6,1194.0 1181.7,1184.9 1184.7,1172.8C1187.1,1163.1 1189.6,1147.1 1192.0,1132.8C1194.4,1118.7 1196.8,1096.9 1199.2,1087.3C1200.5,1082.2 1201.7,1078.2 1203.0,1077.0C1204.2,1075.9 1205.3,1074.4 1206.5,1074.6C1207.7,1074.8 1208.8,1076.0 1210.0,1077.0C1211.3,1078.1 1212.5,1080.4 1213.8,1083.6C1216.2,1089.7 1218.7,1107.9 1221.1,1123.7C1223.5,1139.2 1225.9,1161.7 1228.3,1178.2C1230.7,1194.9 1233.2,1214.4 1235.6,1223.7C1238.0,1233.0 1240.5,1241.0 1242.9,1243.7C1244.9,1246.0 1247.0,1248.7 1249.0,1249.0C1251.3,1249.3 1253.7,1249.7 1256.0,1249.7L1305.0,1249.7C1307.1,1249.7 1309.1,1248.5 1311.2,1247.4C1313.8,1246.1 1316.3,1241.8 1318.9,1237.1C1320.9,1233.4 1322.9,1226.8 1324.9,1221.6C1326.6,1217.1 1328.4,1210.5 1330.1,1207.9C1332.4,1204.5 1334.6,1202.6 1336.9,1202.7C1339.2,1202.8 1341.5,1205.1 1343.8,1208.7C1345.5,1211.4 1347.3,1217.8 1349.0,1222.5C1351.0,1227.9 1353.0,1235.2 1355.0,1238.8C1357.3,1243.0 1359.6,1246.3 1361.9,1247.4C1363.9,1248.4 1366.0,1249.7 1368.0,1249.7L1460.0,1249.7C1462.4,1249.7 1464.7,1247.7 1467.1,1246.5C1470.4,1244.7 1473.8,1240.9 1477.1,1235.1C1479.5,1230.9 1481.8,1217.1 1484.2,1206.6C1486.1,1198.2 1488.0,1182.5 1489.9,1178.2C1492.7,1171.7 1495.6,1168.1 1498.4,1168.2C1500.8,1168.3 1503.2,1170.7 1505.6,1175.3C1508.0,1179.8 1510.3,1197.2 1512.7,1203.8C1515.1,1210.4 1517.4,1216.6 1519.8,1216.6C1522.2,1216.6 1524.5,1208.3 1526.9,1199.5C1529.3,1190.7 1531.6,1172.8 1534.0,1161.1C1535.9,1151.7 1537.8,1139.2 1539.7,1135.4C1541.1,1132.5 1542.6,1131.4 1544.0,1131.9C1545.9,1132.5 1547.8,1135.9 1549.7,1141.1C1552.1,1147.6 1554.4,1168.3 1556.8,1178.2C1558.7,1186.2 1560.6,1195.7 1562.5,1198.1C1564.4,1200.5 1566.3,1202.5 1568.2,1202.4C1570.6,1202.3 1572.9,1199.5 1575.3,1199.5C1577.2,1199.5 1579.1,1203.0 1581.0,1206.6C1583.4,1211.1 1585.8,1222.2 1588.2,1228.0C1590.6,1233.7 1592.9,1239.7 1595.3,1242.2C1597.7,1244.7 1600.0,1245.6 1602.4,1245.1C1604.8,1244.6 1607.1,1240.1 1609.5,1235.1C1611.9,1230.1 1614.2,1216.8 1616.6,1205.0C1618.6,1194.8 1620.7,1181.5 1622.7,1168.0C1624.8,1154.0 1626.9,1136.9 1629.0,1122.2C1630.8,1109.6 1632.6,1094.5 1634.4,1086.1C1635.6,1080.3 1636.9,1074.8 1638.1,1073.5C1639.7,1071.8 1641.4,1070.8 1643.0,1071.2C1644.7,1071.6 1646.3,1073.7 1648.0,1077.1C1649.5,1080.2 1651.0,1092.1 1652.5,1097.0C1654.3,1102.9 1656.1,1108.0 1657.9,1111.4C1659.7,1114.8 1661.5,1117.4 1663.3,1120.4C1665.1,1123.4 1667.0,1125.5 1668.8,1129.5C1670.6,1133.4 1672.4,1142.4 1674.2,1147.5C1675.7,1151.7 1677.2,1155.9 1678.7,1158.4C1680.1,1160.7 1681.4,1163.0 1682.8,1163.3C1684.4,1163.7 1686.1,1161.3 1687.7,1158.4C1689.2,1155.7 1690.7,1148.0 1692.2,1144.8C1694.0,1140.9 1695.9,1137.1 1697.7,1135.8C1699.5,1134.5 1701.3,1133.2 1703.1,1133.1C1705.2,1133.0 1707.3,1135.2 1709.4,1135.3C1710.9,1135.4 1712.4,1132.1 1713.9,1129.5C1715.1,1127.4 1716.3,1123.1 1717.5,1117.7C1718.7,1112.3 1719.9,1102.6 1721.1,1095.1C1722.3,1087.6 1723.5,1080.8 1724.7,1072.6C1726.2,1062.4 1727.7,1044.1 1729.2,1038.0C1731.2,1029.7 1733.3,1023.0 1735.3,1023.2C1737.4,1023.4 1739.4,1024.2 1741.5,1025.7C1744.0,1027.5 1746.4,1033.2 1748.9,1033.1C1751.4,1033.0 1753.8,1024.0 1756.3,1020.8C1759.2,1017.1 1762.0,1013.9 1764.9,1012.2C1767.0,1011.0 1769.0,1015.0 1771.1,1020.8C1773.6,1027.8 1776.0,1056.5 1778.5,1072.5C1780.9,1088.3 1783.4,1107.1 1785.8,1116.9C1787.5,1123.6 1789.1,1128.4 1790.8,1129.2C1793.0,1130.2 1795.2,1120.0 1797.4,1109.6C1799.0,1101.9 1800.7,1080.2 1802.3,1060.3C1804.0,1040.0 1805.6,1008.2 1807.3,986.3C1808.9,964.8 1810.6,936.8 1812.2,929.6C1814.7,918.8 1817.1,910.3 1819.6,912.3C1822.1,914.3 1824.5,919.9 1827.0,929.6C1829.5,939.3 1831.9,959.2 1834.4,974.0C1836.9,988.8 1839.3,1006.9 1841.8,1018.3C1844.7,1031.5 1847.5,1045.7 1850.4,1045.5C1853.3,1045.3 1856.1,1031.1 1859.0,1018.3C1862.3,1003.6 1865.6,978.7 1868.9,961.6C1871.4,948.8 1873.8,932.6 1876.3,927.1C1878.8,921.6 1881.2,920.2 1883.7,921.0C1886.2,921.8 1888.6,927.6 1891.1,937.0C1893.6,946.4 1896.0,977.1 1898.5,993.7C1901.8,1015.7 1905.0,1041.3 1908.3,1052.9C1912.4,1067.6 1916.6,1081.9 1920.7,1081.2C1924.0,1080.6 1927.2,1072.4 1930.5,1062.7C1933.0,1055.4 1935.4,1037.3 1937.9,1030.7C1939.9,1025.3 1942.0,1020.7 1944.0,1020.0"/>
<path stroke="#ff0000" d="M254.0,1209.5C259.1,1207.4 264.1,1205.1 269.2,1205.9C275.2,1206.8 281.1,1213.1 287.1,1213.1C295.1,1213.1 303.1,1205.4 311.1,1205.9C317.9,1206.3 324.7,1208.8 331.5,1209.5C337.1,1210.1 342.7,1210.9 348.3,1210.7C353.1,1210.5 357.8,1208.3 362.6,1208.3L381.8,1208.3C385.8,1208.3 389.8,1214.3 393.8,1216.7C397.8,1219.1 401.8,1221.9 405.8,1222.7C413.0,1224.1 420.1,1221.5 427.3,1219.1C433.7,1216.9 440.1,1205.7 446.5,1205.9C450.5,1206.0 454.5,1212.8 458.5,1216.7C462.2,1220.3 466.0,1227.5 469.7,1228.5C473.8,1229.6 478.0,1223.1 482.1,1224.1C486.5,1225.1 491.0,1229.7 495.4,1230.3C504.3,1231.5 513.1,1231.6 522.0,1231.2C528.8,1230.9 535.6,1227.5 542.4,1227.6C548.0,1227.7 553.6,1237.0 559.2,1238.3C567.5,1240.2 575.7,1241.8 584.0,1241.8C588.7,1241.8 593.5,1241.4 598.2,1240.9C602.9,1240.4 607.6,1236.5 612.3,1236.5C615.9,1236.5 619.4,1240.3 623.0,1242.7C625.4,1244.3 627.7,1247.1 630.1,1248.0C632.7,1249.0 635.4,1249.7 638.0,1249.7M1170.0,1249.7C1176.7,1249.7 1183.3,1248.4 1190.0,1247.5C1195.7,1246.7 1201.5,1244.2 1207.2,1244.1C1214.0,1244.0 1220.7,1249.0 1227.5,1249.5C1229.0,1249.6 1230.5,1249.7 1232.0,1249.7M1320.0,1249.7C1325.6,1249.7 1331.3,1244.0 1336.9,1244.0C1341.9,1244.0 1347.0,1249.7 1352.0,1249.7M1470.0,1249.7C1472.4,1249.7 1474.7,1247.7 1477.1,1246.5C1484.2,1242.9 1491.3,1236.1 1498.4,1233.7C1505.5,1231.3 1512.7,1241.7 1519.8,1240.8C1527.9,1239.8 1535.9,1214.5 1544.0,1215.2C1549.2,1215.7 1554.5,1230.4 1559.7,1232.3C1564.4,1234.0 1569.2,1233.4 1573.9,1235.1C1578.7,1236.8 1583.4,1239.0 1588.2,1240.8C1592.9,1242.6 1597.7,1245.2 1602.4,1245.1C1609.5,1244.9 1616.6,1232.4 1623.7,1225.1C1630.1,1218.5 1636.6,1203.3 1643.0,1203.1C1647.5,1202.9 1652.0,1211.2 1656.5,1213.7C1661.2,1216.4 1666.0,1218.5 1670.7,1220.9C1675.4,1223.2 1680.1,1226.0 1684.8,1227.8C1692.2,1230.6 1699.6,1230.4 1707.0,1226.6C1711.1,1224.5 1715.2,1215.9 1719.3,1210.6C1723.4,1205.3 1727.5,1196.1 1731.6,1194.6C1737.4,1192.5 1743.1,1194.3 1748.9,1193.3C1754.6,1192.3 1760.4,1188.3 1766.1,1188.4C1770.2,1188.5 1774.4,1198.0 1778.5,1203.2C1782.6,1208.4 1786.7,1219.8 1790.8,1220.4C1795.5,1221.0 1800.1,1197.4 1804.8,1190.9C1809.3,1184.5 1813.9,1175.6 1818.4,1177.4C1823.7,1179.5 1829.1,1191.4 1834.4,1195.9C1840.1,1200.8 1845.9,1207.5 1851.6,1205.7C1857.4,1203.9 1863.1,1191.4 1868.9,1186.0C1873.8,1181.3 1878.8,1175.5 1883.7,1174.9C1888.6,1174.3 1893.6,1183.6 1898.5,1190.9C1901.8,1195.7 1905.0,1207.3 1908.3,1210.7C1912.4,1215.0 1916.6,1219.5 1920.7,1218.0C1924.8,1216.5 1928.9,1212.7 1933.0,1210.7C1936.7,1208.9 1940.3,1207.0 1944.0,1205.7"/>
<path stroke="#0000ff" d="M254.0,1128.1C258.7,1121.3 263.3,1113.9 268.0,1116.1C274.4,1119.2 280.7,1141.1 287.1,1141.2C295.1,1141.3 303.1,1111.0 311.1,1112.5C316.3,1113.5 321.5,1124.7 326.7,1125.7C329.9,1126.3 333.1,1126.4 336.3,1126.9C340.3,1127.5 344.3,1129.2 348.3,1129.3C352.3,1129.4 356.2,1121.7 360.2,1119.7C366.6,1116.5 373.0,1116.9 379.4,1118.5C383.4,1119.5 387.4,1126.0 391.4,1132.9C394.6,1138.4 397.8,1154.1 401.0,1159.2C403.0,1162.4 405.0,1164.8 407.0,1165.2C413.8,1166.6 420.5,1163.3 427.3,1154.4C431.3,1149.2 435.3,1135.3 439.3,1125.7C442.1,1119.0 444.9,1108.5 447.7,1105.3C450.5,1102.1 453.3,1115.5 456.1,1125.7C458.5,1134.4 460.9,1155.7 463.3,1164.0C465.4,1171.3 467.6,1179.2 469.7,1178.9C473.8,1178.4 478.0,1163.2 482.1,1165.6C486.5,1168.2 491.0,1182.6 495.4,1184.2C501.3,1186.3 507.2,1187.8 513.1,1187.8C517.8,1187.8 522.6,1186.9 527.3,1186.0C532.3,1185.0 537.4,1173.7 542.4,1173.6C545.6,1173.5 548.9,1184.5 552.1,1191.3C555.1,1197.5 558.0,1209.5 561.0,1212.6C565.7,1217.6 570.4,1219.7 575.1,1221.4C581.6,1223.7 588.1,1226.6 594.6,1224.1C597.6,1223.0 600.5,1212.5 603.5,1209.0C606.7,1205.2 610.0,1202.1 613.2,1202.0C615.9,1201.9 618.5,1207.2 621.2,1212.6C623.6,1217.4 625.9,1230.9 628.3,1235.6C631.2,1241.5 634.2,1247.1 637.1,1248.0C639.7,1248.8 642.4,1249.7 645.0,1249.7L955.0,1249.7C961.7,1249.7 968.3,1247.2 975.0,1247.2C983.3,1247.2 991.7,1247.5 1000.0,1247.5C1010.0,1247.5 1020.0,1247.2 1030.0,1247.2C1038.3,1247.2 1046.7,1249.7 1055.0,1249.7L1155.0,1249.7C1160.2,1249.7 1165.4,1246.6 1170.6,1245.4C1177.4,1243.8 1184.1,1243.0 1190.9,1241.4C1196.3,1240.1 1201.8,1236.2 1207.2,1236.0C1213.1,1235.8 1218.9,1240.1 1224.8,1242.7C1229.3,1244.7 1233.8,1249.0 1238.3,1249.5C1239.5,1249.6 1240.8,1249.7 1242.0,1249.7L1315.0,1249.7C1318.3,1249.7 1321.7,1245.8 1325.0,1244.0C1329.0,1241.8 1332.9,1237.8 1336.9,1237.9C1340.9,1238.0 1345.0,1241.9 1349.0,1244.0C1352.7,1245.9 1356.3,1249.7 1360.0,1249.7L1470.0,1249.7C1472.4,1249.7 1474.7,1248.0 1477.1,1246.5C1480.7,1244.2 1484.4,1239.1 1488.0,1236.0C1491.5,1233.1 1494.9,1228.3 1498.4,1228.7C1501.9,1229.1 1505.5,1233.8 1509.0,1236.0C1512.6,1238.3 1516.2,1242.2 1519.8,1242.2C1523.5,1242.2 1527.3,1238.3 1531.0,1236.0C1535.3,1233.4 1539.7,1227.6 1544.0,1227.3C1549.2,1226.9 1554.5,1236.4 1559.7,1238.0C1564.4,1239.4 1569.2,1239.5 1573.9,1240.8C1578.7,1242.1 1583.4,1243.8 1588.2,1245.1C1592.9,1246.4 1597.7,1247.6 1602.4,1247.2C1609.5,1246.6 1616.6,1236.1 1623.7,1229.4C1630.1,1223.3 1636.6,1208.2 1643.0,1208.1C1647.5,1208.0 1652.0,1215.5 1656.5,1218.0C1661.2,1220.6 1666.0,1222.9 1670.7,1225.1C1675.4,1227.3 1680.1,1229.7 1684.8,1231.5C1692.2,1234.3 1699.6,1236.2 1707.0,1234.0C1711.1,1232.8 1715.2,1224.5 1719.3,1220.4C1723.4,1216.3 1727.5,1210.7 1731.6,1209.3C1737.4,1207.3 1743.1,1208.3 1748.9,1206.9C1754.6,1205.6 1760.4,1200.3 1766.1,1200.7C1770.2,1201.0 1774.4,1208.9 1778.5,1213.0C1782.6,1217.1 1786.7,1225.1 1790.8,1225.4C1795.5,1225.8 1800.1,1211.2 1804.8,1205.7C1809.3,1200.4 1813.9,1191.7 1818.4,1192.2C1823.7,1192.8 1829.1,1204.6 1834.4,1208.2C1840.1,1212.1 1845.9,1217.3 1851.6,1215.6C1857.4,1213.9 1863.1,1205.0 1868.9,1200.8C1873.8,1197.2 1878.8,1192.5 1883.7,1192.2C1888.6,1191.9 1893.6,1199.9 1898.5,1205.7C1901.8,1209.5 1905.0,1218.1 1908.3,1220.5C1912.4,1223.5 1916.6,1226.1 1920.7,1225.4C1924.8,1224.7 1928.9,1222.6 1933.0,1220.5C1936.7,1218.6 1940.3,1215.9 1944.0,1213.0"/>
<path stroke="#ff00ff" d="M254.0,1249.7L950.0,1249.7C952.4,1249.7 954.9,1248.8 957.3,1247.4C958.9,1246.5 960.4,1238.6 962.0,1233.0C963.5,1227.7 964.9,1219.7 966.4,1214.6C968.8,1206.1 971.3,1198.1 973.7,1192.8C975.0,1190.0 976.2,1187.2 977.5,1186.0C978.6,1184.9 979.8,1183.7 980.9,1183.7C982.1,1183.7 983.3,1184.9 984.5,1186.0C985.7,1187.2 987.0,1189.9 988.2,1192.8C990.6,1198.5 993.1,1211.4 995.5,1216.4C997.6,1220.8 999.8,1225.9 1001.9,1224.6C1004.6,1223.0 1007.3,1217.4 1010.0,1214.6C1013.0,1211.5 1016.1,1207.5 1019.1,1206.4C1022.8,1205.0 1026.4,1206.0 1030.1,1207.2C1033.1,1208.2 1036.2,1210.8 1039.2,1214.6C1042.2,1218.3 1045.2,1227.0 1048.2,1232.8C1050.1,1236.5 1052.1,1240.7 1054.0,1243.5C1055.1,1245.1 1056.2,1246.7 1057.3,1247.4C1058.9,1248.4 1060.4,1249.7 1062.0,1249.7L1152.0,1249.7C1155.0,1249.7 1158.0,1248.9 1161.0,1247.2C1162.7,1246.3 1164.3,1241.7 1166.0,1239.0C1168.0,1235.7 1170.0,1232.7 1172.0,1229.2C1174.0,1225.7 1176.0,1221.7 1178.0,1218.0C1180.2,1213.8 1182.5,1210.4 1184.7,1205.5C1187.1,1200.2 1189.6,1192.1 1192.0,1183.7C1194.4,1175.4 1196.8,1162.7 1199.2,1154.6C1200.5,1150.4 1201.7,1145.7 1203.0,1144.0C1204.2,1142.4 1205.3,1140.8 1206.5,1141.0C1207.7,1141.2 1208.8,1142.8 1210.0,1144.0C1211.3,1145.3 1212.5,1147.4 1213.8,1151.0C1216.2,1157.9 1218.7,1175.1 1221.1,1187.3C1223.5,1199.3 1225.9,1214.9 1228.3,1223.7C1230.7,1232.6 1233.2,1239.6 1235.6,1243.7C1237.1,1246.2 1238.5,1249.7 1240.0,1249.7L1944.0,1249.7"/>
</g>
<line x1="1099" y1="44.3" x2="1099" y2="1254.2" stroke="#00f010" stroke-width="7" stroke-dasharray="17.2 10.626" stroke-dashoffset="2.53"/>
<line x1="272" y1="70.6" x2="373.5" y2="70.6" stroke="#000" stroke-width="6" stroke-linecap="round"/>
<text x="384" y="86.6" font-size="39">Total</text>
<line x1="272" y1="119" x2="373.5" y2="119" stroke="#ff0000" stroke-width="6" stroke-linecap="round"/>
<text x="384" y="133.5" font-size="39">Zn</text>
<line x1="272" y1="166" x2="373.5" y2="166" stroke="#0000ff" stroke-width="6" stroke-linecap="round"/>
<text x="384" y="180.4" font-size="39">Se</text>
<line x1="272" y1="207" x2="373.5" y2="207" stroke="#ff00ff" stroke-width="6" stroke-linecap="round"/>
<text x="384" y="221.5" font-size="39">Cr(d)</text>
<text x="1564" y="104.7" font-size="42" textLength="232" lengthAdjust="spacingAndGlyphs">NW-1(site 2)</text>
<text x="1564" y="531.4" font-size="42" textLength="232" lengthAdjust="spacingAndGlyphs">NW-2(site 3)</text>
<text x="1564" y="964.0" font-size="42" textLength="232" lengthAdjust="spacingAndGlyphs">NW-3(site 3)</text>
<text x="1099" y="1409.6" font-size="58.6" text-anchor="middle">Energy (eV)</text>
<text transform="translate(66.7,649.5) rotate(-90)" font-size="58.7" text-anchor="middle">Density of states (States/ eV)</text>
</svg>
</body></html>
